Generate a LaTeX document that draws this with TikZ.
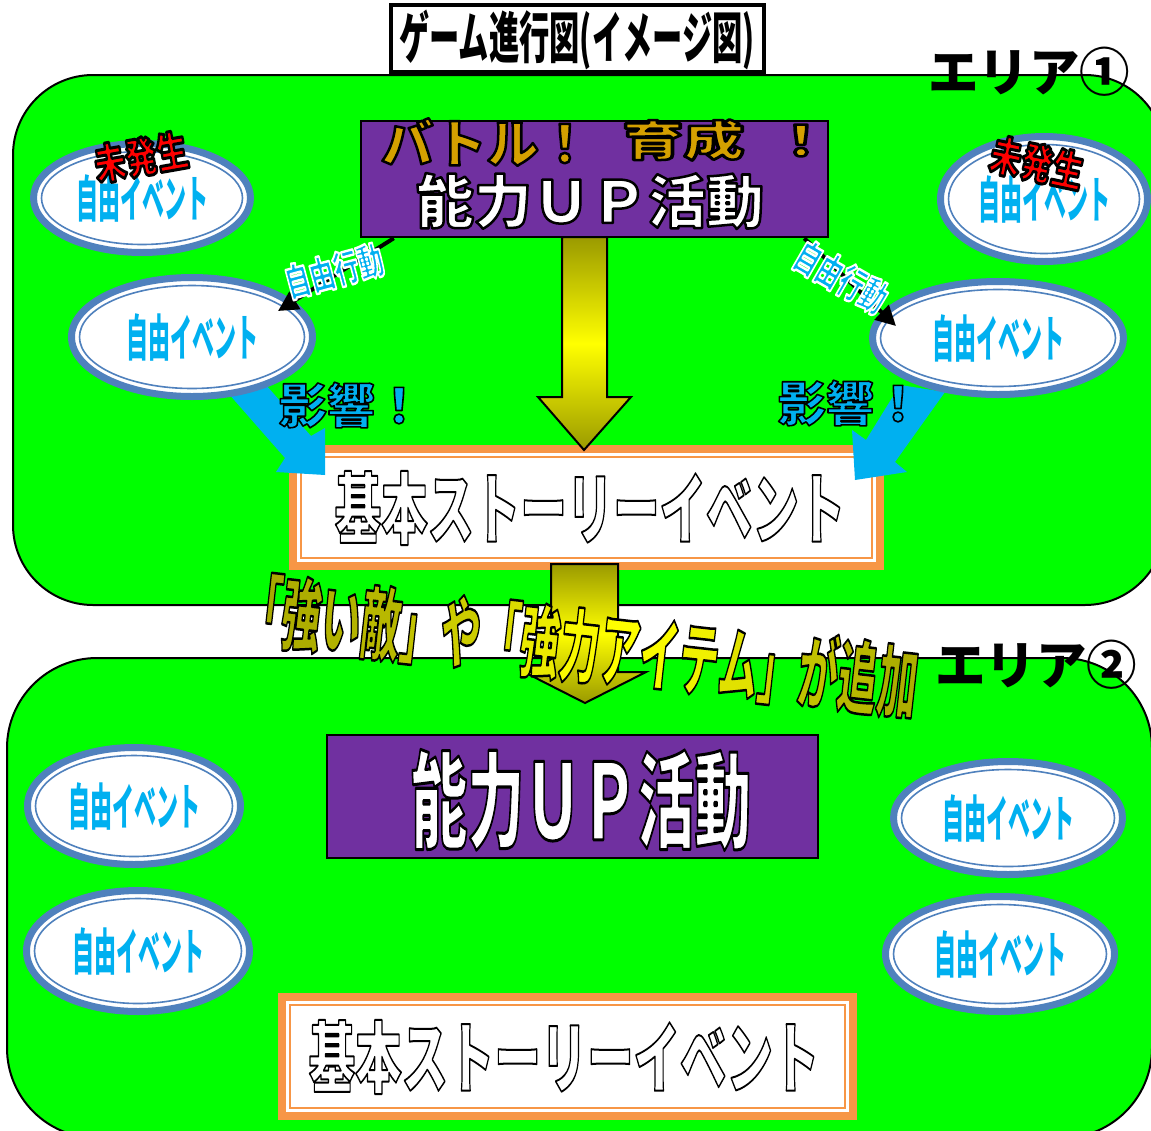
\documentclass[tikz,border=0pt]{standalone}
\usepackage{fontspec}
\newfontfamily\jp{Noto Sans CJK JP}
\usepackage{graphicx}
\usetikzlibrary{shapes.geometric,arrows.meta}
\definecolor{grn}{HTML}{00FF00}
\definecolor{purp}{HTML}{7030A0}
\definecolor{steel}{HTML}{4F81BD}
\definecolor{lblue}{HTML}{00B0F0}
\definecolor{orng}{HTML}{F79646}
\definecolor{gold}{HTML}{D4A000}
\definecolor{yy}{HTML}{FFFF00}
\definecolor{oo}{HTML}{9A9A00}
\newcommand\sx[2]{\scalebox{#1}[1]{#2}}
\newcommand\fs[1]{\fontsize{#1}{#1}\selectfont}
% outlined text: #1 stroke rgb, #2 stroke width, #3 text
\newcommand\outl[3]{\special{pdf:literal direct q #1 RG #2 w 1 j 2 Tr}#3\special{pdf:literal direct Q}}
\newcommand\yc[2]{\special{pdf:literal direct #1 #1 0 rg}#2}
\newcommand\bigline{\yc{0.663}{「}\yc{0.683}{強}\yc{0.703}{い}\yc{0.723}{敵}\yc{0.762}{」}\yc{0.802}{や}\yc{0.861}{「}\yc{0.921}{強}\yc{0.980}{力}\yc{1}{ア}\yc{0.980}{イ}\yc{0.941}{テ}\yc{0.881}{ム}\yc{0.822}{」}\yc{0.762}{が}\yc{0.723}{追}\yc{0.683}{加}}
\newcommand\evtnode[5]{%
  \node[evt, minimum width={2*#4-7}, minimum height={2*#5-7}] (#1) at (#2,#3) {};
  \draw[steel, line width=1.6] (#1.center) ellipse [x radius={#4-11.5}, y radius={#5-11.5}];
  \node[evtxt] (#1txt) at (#1.center) {\sx{0.44}{自由イベント}};}
\begin{document}
\begin{tikzpicture}[x=1pt,y=-1pt,
  area/.style={draw=black, line width=2, fill=grn},
  lbl/.style={inner sep=0, font=\jp\bfseries},
  lblr/.style={inner sep=0, font=\jp},
  pbox/.style={draw=black, line width=2.5, fill=purp, inner sep=0},
  yarrow/.style={draw=black, line width=2, top color=oo, bottom color=oo, middle color=yy},
  barrow/.style={fill=lblue},
  conn/.style={draw=black, line width=4, -{Triangle[length=20pt, width=20pt]}},
  evt/.style={ellipse, draw=steel, line width=7, fill=white, inner sep=0},
  evtxt/.style={inner sep=0, text=lblue, font=\jp\bfseries\fs{50}},
  sbox/.style={fill=orng, inner sep=0},
]
\useasboundingbox (0,0) rectangle (1151,1130);
\fill[white] (0,0) rectangle (1151,1130);
\begin{scope}
\clip (0,0) rectangle (1151,1130);

% areas
\draw[area, rounded corners=80] (13,75) rectangle (1165,605);
\draw[area, rounded corners=90] (7,658) rectangle (1152,1138);

% title
\node[draw=black, line width=4, fill=white, minimum width=373, minimum height=67, inner sep=0] (title) at (577.5,38.5) {};
\node[lbl] (titletxt) at (577,40) {\fs{56}\sx{0.54}{ゲーム進行図(イメージ図)}};

% area label 1
\node[lbl] (a1lbl) at (1029,72) {\fs{52}\sx{0.97}{エリア①}};

% story box 1
\node[sbox, minimum width=595, minimum height=125] (sb1) at (586.5,507.5) {};
\fill[white] ([shift={(8,8)}]sb1.north west) rectangle ([shift={(-8,-8)}]sb1.south east);
\draw[orng, line width=2] ([shift={(12,12)}]sb1.north west) rectangle ([shift={(-12,-12)}]sb1.south east);
\node[lbl] (sb1txt) at (590,508) {\fs{78}\color{white}\outl{0 0 0}{2}{\sx{0.595}{基本ストーリーイベント}}};

% yellow arrow 1
\draw[yarrow] (562,237) -- (607,237) -- (607,397) -- (631,397) -- (584,450) -- (538,397) -- (562,397) -- cycle;

% blue arrows
\fill[barrow] (228,393) -- (285,458) -- (276,472) -- (325,475) -- (325,428) -- (311,436) -- (266,385) -- cycle;
\fill[barrow] (900,385) -- (866,440) -- (852,430) -- (855,480) -- (907,472) -- (895,462) -- (945,392) -- cycle;

% events area 1
\evtnode{ev1}{142}{198}{112}{58}
\evtnode{ev2}{192}{337}{124}{63}
\evtnode{ev3}{1044}{199}{107}{66}
\evtnode{ev4}{998}{338}{129}{60}

\node[lbl, rotate=10] (mh1) at (141,157) {\fs{42}\color{red}\outl{0 0 0}{3}{\sx{0.75}{未発生}}};
\node[lbl, rotate=-12] (mh2) at (1037,163) {\fs{42}\color{red}\outl{0 0 0}{3}{\sx{0.75}{未発生}}};

\node[lbl] (ek1) at (351,405) {\fs{48}\color{lblue}\outl{0 0 0}{1.6}{影響！}};
\node[lbl] (ek2) at (850,403) {\fs{48}\color{lblue}\outl{0 0 0}{1.6}{影響！}};

% purple box 1
\node[pbox, minimum width=467, minimum height=116] (act1) at (594.5,179) {};
\node[lbl] (bt1) at (486,142) {\fs{52}\color{gold}\outl{0 0 0}{2.5}{バトル！}};
\node[lbl] (bt2) at (727,140) {\fs{42}\color{gold}\outl{0 0 0}{2.5}{\sx{1.45}{育成\kern18pt ！}}};
\node[lbl] (act1txt) at (590,201) {\fs{58}\color{white}\outl{0 0 0}{2.5}{能力ＵＰ活動}};

% connectors
\coordinate (c1e) at (278,311);
\coordinate (c2e) at (896,326);
\draw[conn] ([xshift=34pt]act1.south west) -- (c1e);
\draw[conn] ([xshift=-25pt]act1.south east) -- (c2e);
\node[lbl, rotate=15] (fa1) at (334,271) {\fs{38}\color{lblue}\outl{1 1 1}{2.4}{\sx{0.66}{自由行動}}};
\node[lbl, rotate=-30] (fa2) at (841,277) {\fs{38}\color{lblue}\outl{1 1 1}{2.4}{\sx{0.66}{自由行動}}};

% yellow arrow 2
\draw[yarrow] (551,564) -- (618,564) -- (618,672) -- (646,672) -- (585,703) -- (524,672) -- (551,672) -- cycle;

% big slanted text
\node[lbl, rotate=-6.4] (adds) at (580,645) {\fs{80}\outl{0 0 0}{2.5}{\sx{0.5}{\bigline}}};

\node[lbl] (a2lbl) at (1036,665) {\fs{52}\sx{0.97}{エリア②}};

% area 2 contents
\node[pbox, minimum width=491, minimum height=123] (act2) at (572.5,796.5) {};
\node[lbl] (act2txt) at (581,800) {\fs{105}\color{white}\outl{0 0 0}{3}{\sx{0.54}{能力ＵＰ活動}}};

\evtnode{ev5}{134}{806}{110}{62}
\evtnode{ev6}{138}{951}{115}{64}
\evtnode{ev7}{1008}{818}{118}{60}
\evtnode{ev8}{1000}{954}{118}{61}

\node[sbox, minimum width=579, minimum height=127] (sb2) at (567.5,1056.5) {};
\fill[white] ([shift={(8,8)}]sb2.north west) rectangle ([shift={(-8,-8)}]sb2.south east);
\draw[orng, line width=2] ([shift={(12,12)}]sb2.north west) rectangle ([shift={(-12,-12)}]sb2.south east);
\node[lbl] (sb2txt) at (564,1057) {\fs{78}\color{white}\outl{0 0 0}{2}{\sx{0.595}{基本ストーリーイベント}}};
\end{scope}
\end{tikzpicture}
\end{document}
